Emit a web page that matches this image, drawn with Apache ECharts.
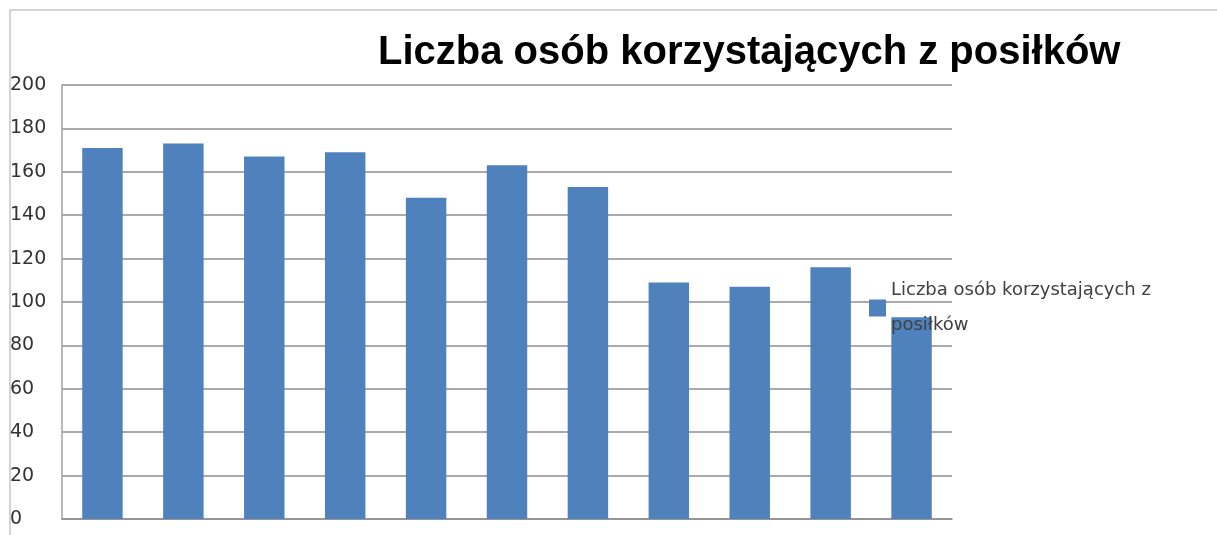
<!DOCTYPE html>
<html>
<head>
<meta charset="utf-8">
<script src="https://cdn.jsdelivr.net/npm/echarts@6/dist/echarts.min.js"></script>
<style>
  html, body { margin: 0; padding: 0; background: #fff; }
  #chart { width: 1217px; height: 535px; }
</style>
</head>
<body>
<div id="chart"></div>
<script>
const seriesName = 'Liczba osób korzystających z posiłków'
const categories = ['1', '2', '3', '4', '5', '6', '7', '8', '9', '10', '11']
const values = [171, 173, 167, 169, 148, 163, 153, 109, 107, 116, 93]

const chart = echarts.init(document.getElementById('chart'))

const option = {
  backgroundColor: '#fff',
  animation: false,
  title: {
    text: seriesName,
    left: 373,
    top: 28,
    textStyle: {
      fontFamily: 'Liberation Sans, sans-serif',
      fontSize: 40,
      fontWeight: 'bold',
      color: '#000'
    }
  },
  // cienka ramka wykresu (góra + lewa)
  graphic: [
    {
      type: 'line',
      shape: { x1: 10, y1: 10, x2: 1230, y2: 10 },
      style: { stroke: '#c6c6c6', lineWidth: 1.5 },
      z: -1
    },
    {
      type: 'line',
      shape: { x1: 10, y1: 10, x2: 10, y2: 540 },
      style: { stroke: '#c6c6c6', lineWidth: 1.5 },
      z: -1
    }
  ],
  legend: {
    left: 864,
    top: 268,
    orient: 'vertical',
    icon: 'rect',
    itemWidth: 17,
    itemHeight: 17,
    formatter: () => 'Liczba osób korzystających z\nposiłków',
    textStyle: {
      fontFamily: 'DejaVu Sans, sans-serif',
      fontSize: 18,
      color: '#404040',
      lineHeight: 35
    }
  },
  grid: { left: 62, right: 265, top: 85, bottom: 16 },
  xAxis: {
    type: 'category',
    data: categories,
    axisLine: { lineStyle: { color: '#8e8e8e', width: 1.5 } },
    axisTick: { show: false },
    axisLabel: { show: false }
  },
  yAxis: {
    type: 'value',
    min: 0,
    max: 200,
    interval: 20,
    axisLine: { show: true, lineStyle: { color: '#a0a0a0', width: 1.5 } },
    axisTick: { show: false },
    splitLine: { lineStyle: { color: '#8e8e8e', width: 1.5 } },
    axisLabel: {
      align: 'left',
      margin: 52,
      padding: [4, 0, 0, 0],
      fontFamily: 'DejaVu Sans, sans-serif',
      fontSize: 19,
      color: '#333'
    }
  },
  series: [{
    name: seriesName,
    type: 'bar',
    data: values,
    barCategoryGap: '50%',
    itemStyle: { color: '#4f81bd' }
  }]
}

chart.setOption(option)
</script>
</body>
</html>
